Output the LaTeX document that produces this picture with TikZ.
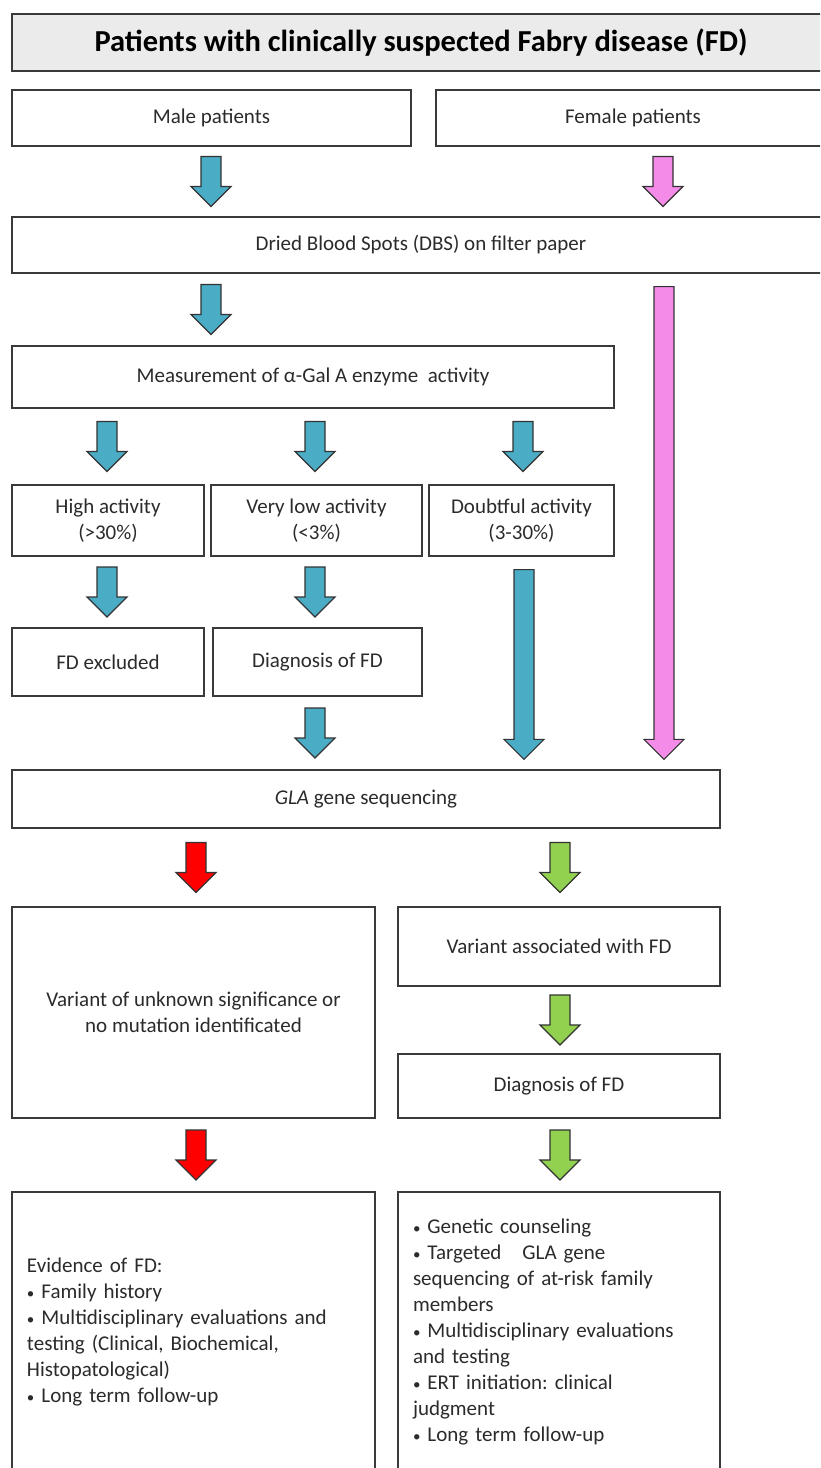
\documentclass[tikz,border=0pt]{standalone}
\usepackage{fontspec}
\setmainfont{Carlito}
\frenchspacing
\usetikzlibrary{calc}
\definecolor{ablue}{HTML}{4BACC6}
\definecolor{apink}{HTML}{F48BE9}
\definecolor{ared}{HTML}{FF0000}
\definecolor{agreen}{HTML}{92D050}
\definecolor{boxline}{HTML}{3A3A3A}
\definecolor{arrline}{HTML}{333333}
\definecolor{txt}{HTML}{2B2B2B}
\definecolor{titlegray}{HTML}{EBEBEB}
\newcommand\bul{{\fontsize{15}{15}\selectfont •}\ }
\tikzset{
  box/.style={draw=boxline, line width=1.3pt, fill=white, inner sep=0pt, text=txt,
    align=center, font=\fontsize{21}{26}\selectfont},
  listbox/.style={box, align=left, inner xsep=15pt},
  arrowshape/.style={draw=arrline, line width=1.1pt, line join=miter},
}
\newcommand\blkshape[1]{%
  \filldraw[arrowshape, fill=#1] ($(T)+(-10pt,0)$) -- ($(T)+(10pt,0)$) -- ($(B)+(10pt,20pt)$)
    -- ($(B)+(20pt,20pt)$) -- (B) -- ($(B)+(-20pt,20pt)$) -- ($(B)+(-10pt,20pt)$) -- cycle;}
\newcommand\blkshort[4]{%
  \coordinate (ax) at (#2,0);
  \coordinate (am) at ($(ax|-#3.south)!0.5!(ax|-#4.north)$);
  \coordinate (T) at ($(am)+(0,25pt)$);
  \coordinate (B) at ($(am)+(0,-25pt)$);
  \blkshape{#1}}
\newcommand\blklong[4]{%
  \coordinate (ax) at (#2,0);
  \coordinate (T) at ($(ax|-#3.south)+(0,-13pt)$);
  \coordinate (B) at ($(ax|-#4.north)+(0,10pt)$);
  \blkshape{#1}}
\begin{document}
\begin{tikzpicture}[x=1pt,y=-1pt]
\useasboundingbox (0,0) rectangle (820,1468);
\clip (0,0) rectangle (820,1468);
\fill[white] (0,0) rectangle (820,1468);

\node[box, fill=titlegray, text=black, minimum width=818pt, minimum height=57pt,
  font=\bfseries\fontsize{30.5}{34}\selectfont] (title) at (421,42.5)
  {Patients with clinically suspected Fabry disease (FD)};

\node[box, minimum width=399pt, minimum height=56pt] (male) at (211.5,118) {Male patients};
\node[box, minimum width=394pt, minimum height=56pt] (female) at (633,118) {Female patients};
\node[box, minimum width=818pt, minimum height=56pt] (dbs) at (421,245) {Dried Blood Spots (DBS) on filter paper};
\node[box, minimum width=602pt, minimum height=62pt] (meas) at (313,377) {Measurement of α-Gal A enzyme\ \ activity};

\node[box, minimum width=192pt, minimum height=71pt] (high) at (108,520.5) {High activity\\(>30\%)};
\node[box, minimum width=211pt, minimum height=71pt] (vlow) at (316.5,520.5) {Very\ low activity\\(<3\%)};
\node[box, minimum width=185pt, minimum height=71pt] (doubt) at (521.5,520.5) {Doubtful activity\\(3-30\%)};

\node[box, minimum width=192pt, minimum height=68pt] (fdex) at (108,662) {FD excluded};
\node[box, minimum width=209pt, minimum height=68pt] (diag1) at (317.5,662) {Diagnosis of FD};

\node[box, minimum width=708pt, minimum height=58pt] (gla) at (366,799) {\textit{GLA}\ gene sequencing};

\node[box, minimum width=363pt, minimum height=211pt] (vus) at (193.5,1012.5)
  {Variant of unknown significance or\\no mutation identificated};
\node[box, minimum width=322pt, minimum height=79pt] (vafd) at (559,946.5) {Variant associated with FD};
\node[box, minimum width=322pt, minimum height=64pt] (diag2) at (559,1086) {Diagnosis of FD};

\node[listbox, text width=333pt, minimum width=363pt, minimum height=280pt] (evl) at (193.5,1332)
  {Evidence of FD:\\
   \bul Family history\\
   \bul Multidisciplinary evaluations and\\
   testing (Clinical,\ Biochemical,\\
   Histopatological)\\
   \bul Long term\ follow-up};
\node[listbox, text width=292pt, minimum width=322pt, minimum height=280pt] (evr) at (559,1332)
  {\bul Genetic\ counseling\\
   \bul Targeted\ \ \ GLA gene\\
   sequencing of at-risk family\\
   members\\
   \bul Multidisciplinary evaluations\\
   and testing\\
   \bul ERT initiation: clinical\\
   judgment\\
   \bul Long term\ follow-up};

% arrows
\blkshort{ablue}{211}{male}{dbs}
\blkshort{apink}{663}{female}{dbs}
\blkshort{ablue}{211}{dbs}{meas}
\blklong{apink}{664}{dbs}{gla}
\blkshort{ablue}{107}{meas}{high}
\blkshort{ablue}{315}{meas}{vlow}
\blkshort{ablue}{523}{meas}{doubt}
\blkshort{ablue}{107}{high}{fdex}
\blkshort{ablue}{315}{vlow}{diag1}
\blklong{ablue}{524}{doubt}{gla}
\blkshort{ablue}{315}{diag1}{gla}
\blkshort{ared}{196}{gla}{vus}
\blkshort{agreen}{560}{gla}{vafd}
\blkshort{agreen}{560}{vafd}{diag2}
\blkshort{ared}{196}{vus}{evl}
\blkshort{agreen}{560}{diag2}{evr}
\end{tikzpicture}
\end{document}
